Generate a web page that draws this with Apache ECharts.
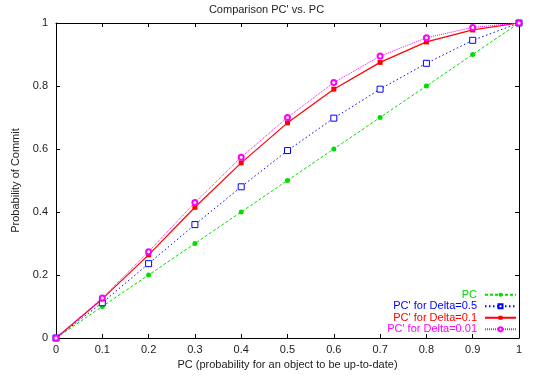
<!DOCTYPE html>
<html><head><meta charset="utf-8">
<script src="https://cdn.jsdelivr.net/npm/echarts@6/dist/echarts.min.js"></script>
<style>html,body{margin:0;padding:0;background:#fff}#c{width:533px;height:376px}</style>
</head><body><div id="c"></div>
<script>
var xValues = [0, 0.1, 0.2, 0.3, 0.4, 0.5, 0.6, 0.7, 0.8, 0.9, 1];
var pc      = [0, 0.1, 0.2, 0.3, 0.4, 0.5, 0.6, 0.7, 0.8, 0.9, 1];
var delta05 = [0, 0.112, 0.236, 0.360, 0.480, 0.595, 0.698, 0.790, 0.872, 0.945, 1];
var delta01 = [0, 0.124, 0.264, 0.415, 0.556, 0.683, 0.790, 0.875, 0.940, 0.978, 1];
var delta001= [0, 0.127, 0.274, 0.430, 0.574, 0.700, 0.811, 0.895, 0.953, 0.986, 1];
var seriesNames = ["PC", "PC' for Delta=0.5", "PC' for Delta=0.1", "PC' for Delta=0.01"];
var colors = ['#00dd00', '#0000ff', '#ff0000', '#ff00ff'];

function pairs(ys){ return xValues.map(function(x,i){return [x, ys[i]];}); }
var font = 'Liberation Sans, Arial, sans-serif';
var chart = echarts.init(document.getElementById('c'));
var axisCommon = {
  min: 0, max: 1, interval: 0.1,
  axisLine: {show: true, onZero: false, lineStyle: {color: '#000', width: 1}},
  axisTick: {show: true, inside: true, length: 4, lineStyle: {color: '#000'}},
  splitLine: {show: false},
  axisLabel: {color: '#222', fontSize: 11, fontFamily: font}
};
chart.setOption({
  animation: false,
  title: {text: "Comparison PC' vs. PC", left: 'center', top: -1,
    textStyle: {fontSize: 11, fontWeight: 'normal', color: '#222', fontFamily: font}},
  grid: {left: 56, right: 14, top: 23, bottom: 38, containLabel: false},
  xAxis: [
    Object.assign({}, axisCommon, {type: 'value', position: 'bottom',
      name: 'PC (probability for an object to be up-to-date)', nameLocation: 'middle', nameGap: 19,
      nameTextStyle: {fontSize: 11, color: '#222', fontFamily: font},
      axisLabel: Object.assign({}, axisCommon.axisLabel, {margin: 6, formatter: function(v){return +v.toFixed(1);}})}),
    Object.assign({}, axisCommon, {type: 'value', position: 'top', axisLabel: {show: false}})
  ],
  yAxis: [
    Object.assign({}, axisCommon, {type: 'value', position: 'left', interval: 0.2,
      name: 'Probability of Commit', nameLocation: 'middle', nameGap: 30,
      nameTextStyle: {fontSize: 11, color: '#222', fontFamily: font},
      axisLabel: Object.assign({}, axisCommon.axisLabel, {margin: 8, formatter: function(v){return +v.toFixed(1);}})}),
    Object.assign({}, axisCommon, {type: 'value', position: 'right', interval: 0.2, axisLabel: {show: false}})
  ],
  legend: {
    orient: 'vertical', right: 16, bottom: 41, align: 'right',
    itemWidth: 31, itemHeight: 5, itemGap: 0, padding: 0,
    textStyle: {fontSize: 11, lineHeight: 11.5, fontFamily: font, padding: [0, 3, 0, 0]},
    data: seriesNames.map(function(n,i){return {name: n, textStyle: {color: colors[i]}};})
  },
  series: [
    {name: seriesNames[0], type: 'line', data: pairs(pc), symbol: 'circle', symbolSize: 5,
      itemStyle: {color: colors[0]}, lineStyle: {color: colors[0], width: 1, type: [3,2]}},
    {name: seriesNames[1], type: 'line', data: pairs(delta05), symbol: 'rect', symbolSize: 6,
      itemStyle: {color: '#fff', borderColor: colors[1], borderWidth: 1}, lineStyle: {color: colors[1], width: 1, type: [1.5,2.5]}},
    {name: seriesNames[2], type: 'line', data: pairs(delta01), symbol: 'rect', symbolSize: 5,
      itemStyle: {color: colors[2]}, lineStyle: {color: colors[2], width: 1.2, type: 'solid'}},
    {name: seriesNames[3], type: 'line', data: pairs(delta001), symbol: 'emptyCircle', symbolSize: 5,
      itemStyle: {color: colors[3], borderWidth: 1}, lineStyle: {color: colors[3], width: 1, type: [1,1]}}
  ]
});
</script></body></html>
